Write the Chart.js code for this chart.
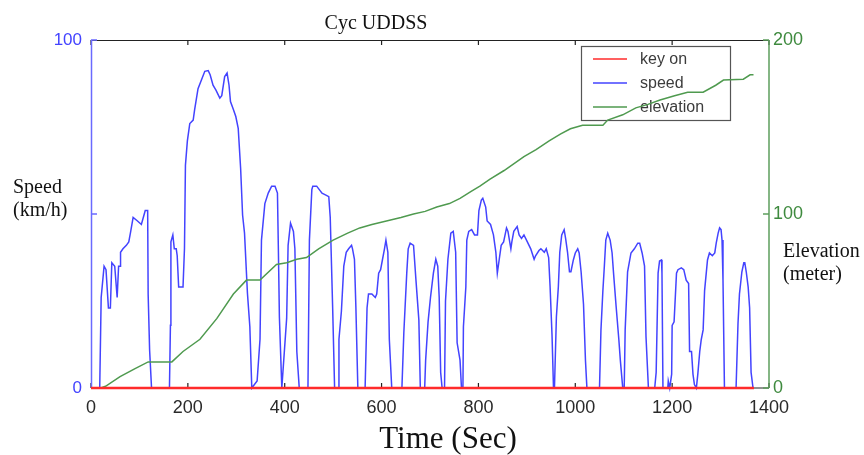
<!DOCTYPE html>
<html>
<head>
<meta charset="utf-8">
<script src="https://cdn.jsdelivr.net/npm/chart.js@4.4.1/dist/chart.umd.min.js"></script>
<style>
  html, body { margin: 0; padding: 0; background: #fff; }
</style>
</head>
<body>
<canvas id="cyc" width="864" height="455"></canvas>
<script>
// values (time in s)
const speedTime = [0, 18, 21, 27, 31, 36, 40, 43, 49, 54, 57, 60, 61, 66, 73, 78, 82, 87, 96, 104, 108, 112, 117, 118, 121, 125,
  162, 164, 165, 169, 172, 176, 178, 181, 190, 193, 195, 199, 204, 211, 214, 221, 228, 235, 242, 246, 252, 258, 266, 270, 276, 281, 285, 288, 294, 299, 304, 309, 313, 317, 323, 328, 332,
  343, 349, 352, 359, 366, 373, 380, 385, 387, 389, 394, 404, 407, 412, 418, 421, 425, 430,
  448, 451, 456, 458, 466, 477, 484, 491, 494, 499, 503, 511, 512, 517, 522, 527, 532, 538, 540, 544, 547, 551,
  566, 570, 573, 580, 587, 590, 594, 598, 602, 606, 609, 613, 616, 621, 642, 646, 652, 655, 659, 666, 671, 677, 680,
  689, 691, 696, 701, 707, 712, 716, 719, 722, 725, 730, 732, 737, 743, 748, 753, 756, 762, 765, 768,
  769, 774, 776, 780, 786, 792, 798, 801, 806, 809, 815, 818, 825, 831, 836, 839, 843, 847, 852, 858, 861, 867, 869, 873, 880, 884, 889, 894, 901, 908, 915, 918, 925, 929, 936, 940, 945, 948, 952, 955,
  957, 961, 965, 968, 972, 977, 980, 984, 988, 991, 996, 1000, 1005, 1008, 1012, 1017, 1021, 1024,
  1050, 1053, 1057, 1060, 1063, 1067, 1072, 1076, 1079, 1084, 1090, 1093, 1098, 1101, 1103, 1108, 1115, 1122, 1129, 1133, 1138, 1143, 1146, 1151,
  1164, 1167, 1171, 1174, 1178, 1179, 1181, 1191, 1192, 1195, 1199, 1200, 1204, 1209, 1212, 1219, 1224, 1229, 1234, 1236, 1240, 1243, 1246, 1250,
  1253, 1257, 1260, 1264, 1267, 1273, 1277, 1283, 1288, 1291, 1295, 1298, 1301, 1303, 1305, 1308,
  1332, 1336, 1339, 1344, 1348, 1350, 1353, 1357, 1360, 1363, 1367, 1369];
const speedKmh = [0, 0, 26, 35, 34, 23, 23, 36, 35, 26, 35, 35, 39, 40, 41, 42, 45, 49, 48, 47, 49, 51, 51, 27, 11, 0,
  0, 18, 42, 44, 40, 40, 38, 29, 29, 40, 64, 71, 76, 77, 80, 86, 88.5, 91, 91.2, 90, 87, 85.6, 83.3, 84, 89.5, 90.5, 87, 82.3, 80, 78, 74.6, 63, 49.7, 44.5, 27.3, 17.6, 0,
  2, 14, 42.5, 53, 56, 58, 58, 56, 39, 20.5, 0, 20, 41, 47.4, 45, 40, 10.5, 0,
  0, 42.5, 57, 58, 58, 56, 55.5, 55, 49, 23, 0, 0, 14, 22, 35, 39, 40, 41, 40, 37, 23, 0,
  0, 23, 27, 27, 26, 27, 33, 34, 37, 40, 42.5, 39, 14, 0, 0, 16, 33, 40, 41.6, 41, 31, 19.5, 0,
  0, 8, 19, 26, 33, 37, 35, 26, 4.5, 0, 0, 25, 37, 44.5, 45, 39, 13, 8, 0, 0,
  17.6, 29, 42.5, 45, 45.5, 44, 44, 51, 54, 54.5, 52, 48, 47, 44, 39, 33, 37, 41, 42, 46, 45, 40, 42, 45, 46.4, 44, 43, 44, 42, 40, 37, 38, 39.5, 40, 39, 40, 37.5, 29, 15, 0,
  0, 20.5, 29, 39, 44, 45.5, 43, 39, 33.4, 33.4, 36.8, 38.8, 40, 38.8, 33.4, 24, 8, 0,
  0, 16.7, 28, 35, 42.5, 44.5, 42.5, 38.8, 33, 24, 13.8, 8, 0, 0, 16.7, 33.4, 38.8, 40, 41.6, 41.6, 38.8, 35, 14.8, 0,
  0, 4.5, 33, 36.5, 36.8, 33, 0, 0, 2, 0, 4, 18, 19, 33, 34, 34.5, 34, 31, 30, 10.5, 10.5, 4, 1, 0,
  4, 10.5, 13.8, 16.7, 28, 36.8, 38.8, 38, 38.8, 41.6, 44.5, 46, 45.5, 42.5, 31, 0,
  0, 18.6, 27, 33.4, 36, 36, 33.4, 29, 23, 4.5, 0, 0];
const elevTime = [20, 30, 60, 90, 118, 167, 190, 225, 260, 294, 321, 349, 383, 404, 425, 445, 470, 500, 530, 555, 580, 610, 640, 666, 690, 714, 740, 762, 785, 803, 824,
  853, 894, 919, 946, 970, 990, 1015, 1057, 1067, 1098, 1125, 1150, 1175, 1205, 1232, 1264, 1290, 1306, 1347, 1361, 1368];
const elevMeter = [0, 1, 6.5, 11, 15, 15, 21, 28, 40, 54, 62, 62, 71, 72, 74, 75, 80, 85, 89, 92, 94, 96, 98, 100, 101.5, 104, 106, 109, 113, 116, 120,
  125, 133, 137, 142, 146, 149, 151, 151, 154, 157, 161, 163, 165.5, 168, 170, 170, 174, 177, 177.5, 180, 180];
const keyOnTime = [0, 1369];
const keyOnValue = [0, 0];

const timeTicks = [0, 200, 400, 600, 800, 1000, 1200, 1400];
const speedTicks = [0, 50, 100];
const speedTickLabels = ["0", "", "100"];
const elevTicks = [0, 100, 200];

const blue = "#4343ff";
const blueAxis = "#6a6aff";
const green = "#4f9a4f";
const greenAxis = "#5e9e5e";
const red = "#ff2b2b";
const tickFont = { family: "Liberation Sans", size: 17 };
const serif = "\"Liberation Serif\", \"Times New Roman\", serif";

const pts = (xs, ys) => xs.map((x, i) => ({ x: x, y: ys[i] }));
const setTicks = (vals) => (scale) => { scale.ticks = vals.map((v) => ({ value: v })); };

const framePlugin = {
  id: "matlabFrame",
  beforeDatasetsDraw(chart) {
    const { ctx, chartArea: a, scales } = chart;
    ctx.save();
    // legend box (data lines run over it, as in the picture)
    const lx = 581.5, ly = 46.5, lw = 149, lh = 74;
    ctx.fillStyle = "#fff";
    ctx.fillRect(lx, ly, lw, lh);
    ctx.strokeStyle = "#555";
    ctx.lineWidth = 1.2;
    ctx.strokeRect(lx, ly, lw, lh);
    ctx.font = "16px \"Liberation Sans\"";
    ctx.textBaseline = "middle";
    chart.data.datasets.forEach((ds, i) => {
      const y = 59 + i * 24;
      ctx.strokeStyle = ds.borderColor;
      ctx.lineWidth = 1.5;
      ctx.beginPath();
      ctx.moveTo(593, y);
      ctx.lineTo(627, y);
      ctx.stroke();
      ctx.fillStyle = "#3c3c3c";
      ctx.fillText(ds.label, 640, y + 1);
    });

    // frame
    ctx.lineWidth = 1.2;
    ctx.strokeStyle = "#222";
    ctx.beginPath();
    ctx.moveTo(a.left, a.top + 0.5);
    ctx.lineTo(a.right, a.top + 0.5);
    ctx.moveTo(a.left, a.bottom);
    ctx.lineTo(a.right, a.bottom);
    ctx.stroke();
    timeTicks.forEach((t) => {
      const x = scales.x.getPixelForValue(t);
      ctx.beginPath();
      ctx.moveTo(x, a.top);
      ctx.lineTo(x, a.top + 5);
      ctx.moveTo(x, a.bottom);
      ctx.lineTo(x, a.bottom - 5);
      ctx.stroke();
    });
    ctx.lineWidth = 1.5;
    ctx.strokeStyle = blueAxis;
    ctx.beginPath();
    ctx.moveTo(a.left + 0.5, a.top);
    ctx.lineTo(a.left + 0.5, a.bottom);
    speedTicks.forEach((v) => {
      const y = scales.ySpeed.getPixelForValue(v);
      ctx.moveTo(a.left, y);
      ctx.lineTo(a.left + 6, y);
    });
    ctx.stroke();
    ctx.strokeStyle = greenAxis;
    ctx.beginPath();
    ctx.moveTo(a.right, a.top);
    ctx.lineTo(a.right, a.bottom);
    elevTicks.forEach((v) => {
      const y = scales.yElev.getPixelForValue(v);
      ctx.moveTo(a.right, y);
      ctx.lineTo(a.right - 6, y);
    });
    ctx.stroke();
    ctx.restore();
  },
  afterDraw(chart) {
    const { ctx } = chart;
    ctx.save();
    ctx.fillStyle = "#111";
    ctx.textBaseline = "alphabetic";
    ctx.font = "20px " + serif;
    ctx.textAlign = "center";
    ctx.fillText("Cyc UDDSS", 376, 29);
    ctx.textAlign = "left";
    ctx.fillText("Speed", 13, 193);
    ctx.fillText("(km/h)", 13, 216);
    ctx.fillText("Elevation", 783, 257);
    ctx.fillText("(meter)", 783, 280);
    ctx.font = "31px " + serif;
    ctx.textAlign = "center";
    ctx.fillText("Time (Sec)", 448, 448);
    ctx.restore();
  },
};

new Chart(document.getElementById("cyc"), {
  type: "line",
  data: {
    datasets: [
      { label: "key on", data: pts(keyOnTime, keyOnValue), borderColor: red, borderWidth: 2.4, yAxisID: "ySpeed", order: 0, clip: false },
      { label: "speed", data: pts(speedTime, speedKmh), borderColor: blue, borderWidth: 1.5, yAxisID: "ySpeed", order: 2, clip: false },
      { label: "elevation", data: pts(elevTime, elevMeter), borderColor: green, borderWidth: 1.5, yAxisID: "yElev", order: 1, clip: false },
    ],
  },
  options: {
    responsive: false,
    animation: false,
    events: [],
    elements: { point: { radius: 0 }, line: { tension: 0 } },
    layout: { padding: { top: 40, left: 0, right: 0, bottom: 0 } },
    plugins: { legend: { display: false }, tooltip: { enabled: false }, title: { display: false } },
    scales: {
      x: {
        type: "linear",
        min: 0,
        max: 1400,
        afterBuildTicks: setTicks(timeTicks),
        afterFit: (s) => { s.height = 67; },
        grid: { display: false, drawTicks: false },
        border: { display: false },
        ticks: { font: { family: "Liberation Sans", size: 18 }, color: "#2a2a2a", padding: 9, maxRotation: 0, autoSkip: false, callback: (v) => String(v) },
      },
      ySpeed: {
        position: "left",
        min: 0,
        max: 100,
        afterBuildTicks: setTicks(speedTicks),
        afterFit: (s) => { s.width = 91; },
        grid: { display: false, drawTicks: false },
        border: { display: false },
        ticks: {
          font: tickFont,
          color: blue,
          padding: 9,
          callback: (v) => speedTickLabels[speedTicks.indexOf(v)],
        },
      },
      yElev: {
        position: "right",
        min: 0,
        max: 200,
        afterBuildTicks: setTicks(elevTicks),
        afterFit: (s) => { s.width = 95; },
        grid: { display: false, drawTicks: false },
        border: { display: false },
        ticks: { font: { family: "Liberation Sans", size: 18 }, color: "#3e8a3e", padding: 4, callback: (v) => String(v) },
      },
    },
  },
  plugins: [framePlugin],
});
</script>
</body>
</html>
